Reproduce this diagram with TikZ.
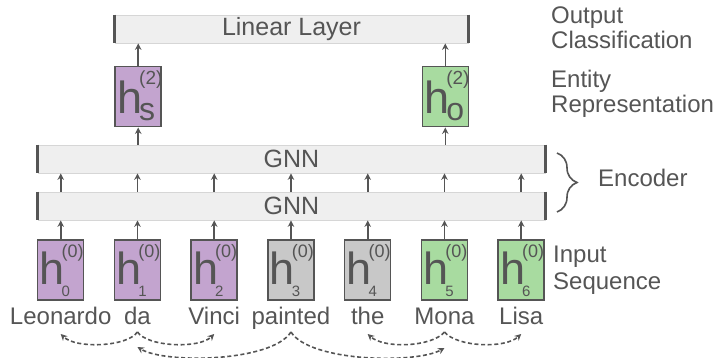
\documentclass[tikz,border=0pt]{standalone}
\usepackage{fontspec}
\setmainfont{Liberation Sans}
\usetikzlibrary{arrows.meta,decorations.pathreplacing,calc}
\definecolor{ink}{HTML}{555555}
\definecolor{purp}{HTML}{C3A4CF}
\definecolor{grn}{HTML}{A8DBA0}
\definecolor{gry}{HTML}{C8C8C8}
\definecolor{barfill}{HTML}{EFEFEF}
\definecolor{barline}{HTML}{D6D6D6}
\newcommand{\hlab}[7]{% sup, sub, subsize, supraise, subdrop, supsize
{\fontsize{45}{45}\selectfont h}\kern-3pt\makebox[20pt][l]{\rlap{\raisebox{#4}{\fontsize{#6}{#6}\selectfont(#1)}}\raisebox{-#5}{\fontsize{#3}{#3}\selectfont #2}}}
\begin{document}
\begin{tikzpicture}[x=1pt,y=-1pt,
  txt/.style={font=\fontsize{24}{26}\selectfont, text=ink, inner sep=0pt},
  hbox/.style={draw=ink, line width=1.5pt, minimum width=46pt, inner sep=0pt, text=ink, align=left},
  inbox/.style={hbox, text height=45pt, text depth=15pt},
  topbox/.style={hbox, text height=46.6pt, text depth=13.4pt},
  bar/.style={draw=barline, fill=barfill, line width=0.8pt, inner sep=0pt, minimum height=28pt, font=\fontsize{25}{26}\selectfont, text=ink},
  barend/.style={draw=ink, line width=2.6pt},
  up/.style={draw=ink, line width=1.6pt, -{Stealth[length=6.5pt,width=6.5pt]}},
  dep/.style={draw=ink, line width=1.6pt, dash pattern=on 4pt off 2.6pt, -{Stealth[length=6.5pt,width=6.5pt]}},
]
\useasboundingbox (0,0) rectangle (724,358);

% bars
\node[bar, minimum width=353pt] (lin) at (291.5,29) {Linear Layer};
\node[bar, minimum width=507pt] (gnnB) at (291.5,159) {GNN};
\node[bar, minimum width=507pt] (gnnA) at (291.5,206) {GNN};
\foreach \b in {lin,gnnB,gnnA}{
  \draw[barend] (\b.north west) -- (\b.south west);
  \draw[barend] (\b.north east) -- (\b.south east);
}

% input boxes
\foreach \i/\c in {0/purp,1/purp,2/purp,3/gry,4/gry,5/grn,6/grn}{
  \node[inbox, fill=\c] (h\i) at ({60.7+76.75*\i},270) {\hlab{0}{\i}{15}{27pt}{11.7pt}{18}{}};
  \draw[up] (h\i.north) -- (h\i.north |- gnnA.south);
  \draw[up] (h\i.north |- gnnA.north) -- (h\i.north |- gnnB.south);
}

% entity boxes
\node[topbox, fill=purp] (hs) at (138.2,96.7) {\hlab{2}{s}{32}{29pt}{7pt}{19}{}};
\node[topbox, fill=grn] (ho) at (445.3,96.7) {\hlab{2}{o}{32}{29pt}{7pt}{19}{}};
\foreach \e in {hs,ho}{
  \draw[up] (\e.south |- gnnB.north) -- (\e.south);
  \draw[up] (\e.north) -- (\e.north |- lin.south);
}

% words
\foreach \i/\w in {0/Leonardo,1/da,2/Vinci,3/painted,4/the,5/Mona,6/Lisa}{
  \node[txt, anchor=base] (w\i) at ({60.7+76.75*\i},325) {\w};
}

% dependency arcs
\coordinate (s1) at ($(w1.base)+(0,7)$);
\coordinate (s3) at ($(w3.base)+(0,7)$);
\coordinate (s5) at ($(w5.base)+(0,7)$);
\coordinate (e0) at ($(w0.base)+(0,9)$);
\coordinate (e2) at ($(w2.base)+(0,9)$);
\coordinate (e4) at ($(w4.base)+(0,9)$);
\coordinate (e6) at ($(w6.base)+(0,9)$);
\coordinate (e1) at ($(w1.base)+(0,22)$);
\coordinate (e5) at ($(w5.base)+(0,23)$);
\draw[dep] (s1) .. controls (127,347) and (76,349) .. (e0);
\draw[dep] (s1) .. controls (148,347) and (199,349) .. (e2);
\draw[dep] (s3) .. controls (272,362) and (165,364) .. (e1);
\draw[dep] (s3) .. controls (310,362) and (416,364) .. (e5);
\draw[dep] (s5) .. controls (432,347) and (384,349) .. (e4);
\draw[dep] (s5) .. controls (457,347) and (505,349) .. (e6);

% right labels
\node[txt, anchor=base west] (out1) at (551,24) {Output};
\node[txt, anchor=base west] (out2) at (551,49) {Classification};
\node[txt, anchor=base west] (ent1) at (551,88) {Entity};
\node[txt, anchor=base west] (ent2) at (551,113) {Representation};
\node[txt, anchor=base west] (enc) at (598,187) {Encoder};
\node[txt, anchor=base west] (inp1) at (553,263) {Input};
\node[txt, anchor=base west] (inp2) at (553,290) {Sequence};
\coordinate (bt) at (557,153);
\coordinate (bb) at (557,212);
\draw[ink, line width=1.6pt, decorate, decoration={brace, amplitude=20pt, aspect=0.5}] (bt) -- (bb);
\end{tikzpicture}
\end{document}
